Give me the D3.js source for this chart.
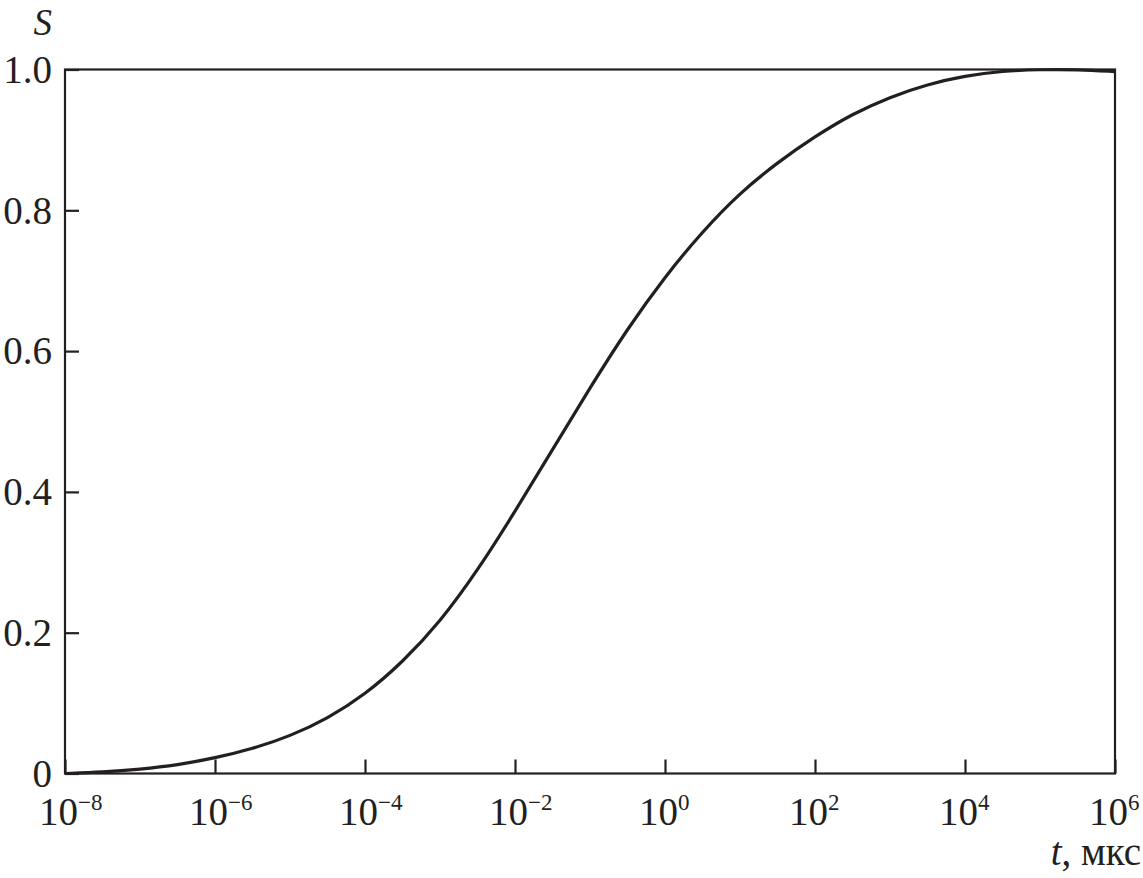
<!DOCTYPE html>
<html>
  <head>
    <style>
      body { margin: 0; background: #fff; }
      text { font-family: "Liberation Serif", "Times New Roman", serif; fill: #231f20; }
    </style>
  </head>
  <body>
    <svg width="1143" height="878"></svg>
    <script src="https://d3js.org/d3.v7.min.js"></script>
    <script>
      // log10(t, мкс) and S
      var logT = [-8, -7.5, -7, -6.5, -6, -5.5, -5, -4.5, -4, -3.5, -3, -2.5, -2, -1.5, -1, -0.5,
                  0, 0.5, 1, 1.5, 2, 2.5, 3, 3.5, 4, 4.5, 5, 5.5, 6];
      var sValues = [0.0, 0.002, 0.006, 0.012, 0.022, 0.035, 0.053, 0.078, 0.112, 0.158, 0.215, 0.288,
                     0.372, 0.46, 0.548, 0.632, 0.706, 0.77, 0.825, 0.868, 0.905, 0.937, 0.961, 0.979,
                     0.991, 0.998, 1.0, 1.0, 0.997];
      var xTickExps = [-8, -6, -4, -2, 0, 2, 4, 6];
      var yTicks = [0, 0.2, 0.4, 0.6, 0.8, 1.0];
      var yTickLabels = ["0", "0.2", "0.4", "0.6", "0.8", "1.0"];

      var svg = d3.select("svg"),
        plotLeft = 65, plotRight = 1115, plotTop = 69.5, plotBottom = 773.5;

      var x = d3.scaleLog().domain([1e-8, 1e6]).range([plotLeft, plotRight]);
      var y = d3.scaleLinear().domain([0, 1]).range([plotBottom, plotTop]);

      var data = logT.map(function(d, i) {
        return { t: Math.pow(10, d), s: sValues[i] };
      });

      // frame
      svg.append("rect")
        .attr("x", plotLeft).attr("y", plotTop)
        .attr("width", plotRight - plotLeft).attr("height", plotBottom - plotTop)
        .attr("fill", "none").attr("stroke", "#231f20").attr("stroke-width", 2.2);

      // inward ticks
      var xAxis = svg.append("g")
        .attr("transform", "translate(0," + plotBottom + ")")
        .call(d3.axisBottom(x)
          .tickValues(xTickExps.map(function(e) { return Math.pow(10, e); }))
          .tickSize(-14).tickFormat(""));
      xAxis.select(".domain").remove();
      xAxis.selectAll("line").attr("stroke", "#231f20").attr("stroke-width", 2.2);

      var yAxis = svg.append("g")
        .attr("transform", "translate(" + plotLeft + ",0)")
        .call(d3.axisLeft(y).tickValues(yTicks).tickSize(-14).tickFormat(""));
      yAxis.select(".domain").remove();
      yAxis.selectAll("line").attr("stroke", "#231f20").attr("stroke-width", 2.2);

      // x tick labels 10^n
      xTickExps.forEach(function(e) {
        var txt = svg.append("text")
          .attr("x", x(Math.pow(10, e)) - 26)
          .attr("y", 825)
          .attr("font-size", 39);
        txt.append("tspan").text("10");
        txt.append("tspan")
          .attr("dy", -15)
          .attr("font-size", 23)
          .text(e < 0 ? "\u2212" + (-e) : String(e));
      });

      // y tick labels
      yTicks.forEach(function(v, i) {
        svg.append("text")
          .attr("x", 52)
          .attr("y", y(v))
          .attr("dy", "0.34em")
          .attr("text-anchor", "end")
          .attr("font-size", 39)
          .text(yTickLabels[i]);
      });

      // axis titles
      svg.append("text")
        .attr("x", 52).attr("y", 35)
        .attr("text-anchor", "end")
        .attr("font-size", 37)
        .attr("font-style", "italic")
        .text("S");

      var xt = svg.append("text")
        .attr("x", 1141).attr("y", 865)
        .attr("text-anchor", "end")
        .attr("font-size", 39);
      xt.append("tspan").attr("font-style", "italic").text("t");
      xt.append("tspan").text(", мкс");

      // curve
      var line = d3.line()
        .x(function(d) { return x(d.t); })
        .y(function(d) { return y(d.s); })
        .curve(d3.curveBasis);

      svg.append("path")
        .datum(data)
        .attr("d", line)
        .attr("fill", "none")
        .attr("stroke", "#231f20")
        .attr("stroke-width", 3.2);
    </script>
  </body>
</html>
